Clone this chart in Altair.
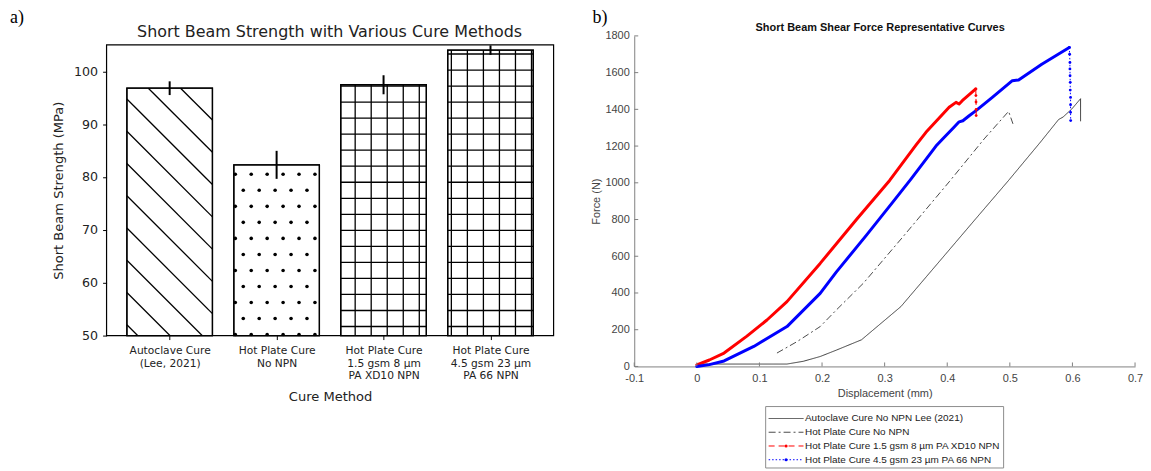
import json
import pandas as pd
import altair as alt

# ---------------- Panel a) values ----------------
categories = ["Autoclave Cure|(Lee, 2021)", "Hot Plate Cure|No NPN",
              "Hot Plate Cure|1.5 gsm 8 µm|PA XD10  NPN",
              "Hot Plate Cure|4.5 gsm 23 µm|PA 66 NPN"]
strength = [96.8, 82.3, 97.45, 104.0]
strength_err = [1.3, 2.65, 1.8, 0.9]
hatch_style = ["diag", "dots", "grid", "grid"]
a_yticks = [50, 60, 70, 80, 90, 100]
a_title = "Short Beam Strength with Various Cure Methods"
a_xtitle = "Cure Method"
a_ytitle = "Short Beam Strength (MPa)"

# ---------------- Panel b) values ----------------
series_names = ["Autoclave Cure No NPN Lee (2021)", "Hot Plate Cure No NPN",
                "Hot Plate Cure 1.5 gsm 8 µm PA XD10 NPN",
                "Hot Plate Cure 4.5 gsm 23 µm PA 66 NPN"]
series_colors = ["#3a3a3a", "#4a4a4a", "#ff0000", "#0000ff"]
series_dash = [[1, 0], [7, 3, 2, 3], [6, 4], [1.5, 2]]
series_marker = [False, False, True, True]

auto_d = [0.0, 0.144, 0.170, 0.197, 0.223, 0.263, 0.326, 0.366, 0.446, 0.498,
          0.549, 0.578, 0.585, 0.599, 0.613, 0.613]
auto_F = [13, 13, 28, 54, 89, 145, 326, 486, 806, 1013,
          1222, 1345, 1358, 1402, 1458, 1335]

nonpn_d = [0.128, 0.160, 0.197, 0.223, 0.266, 0.330, 0.403, 0.459, 0.498, 0.505]
nonpn_F = [73, 135, 217, 308, 453, 709, 1005, 1239, 1389, 1321]

xd10_d = [0.0, 0.020, 0.0435, 0.080, 0.112, 0.144, 0.197, 0.255, 0.308, 0.350,
          0.366, 0.403, 0.414, 0.419, 0.424, 0.4456]
xd10_F = [9, 35, 73, 165, 253, 353, 561, 800, 1013, 1205,
          1275, 1411, 1438, 1429, 1447, 1511]
xd10_drop_d = [0.4456, 0.4458, 0.4460, 0.4462, 0.4462]
xd10_drop_F = [1511, 1475, 1440, 1400, 1366]

pa66_d = [0.0, 0.020, 0.0435, 0.091, 0.144, 0.197, 0.223, 0.271, 0.313, 0.342,
          0.382, 0.393, 0.410, 0.419, 0.425, 0.435, 0.446, 0.472, 0.504, 0.514,
          0.551, 0.595]
pa66_F = [0, 10, 30, 109, 217, 398, 515, 715, 895, 1020,
          1200, 1240, 1300, 1332, 1338, 1365, 1393, 1465, 1556, 1560,
          1646, 1737]
pa66_drop_d = [0.595, 0.5955, 0.596, 0.596, 0.5962, 0.5965, 0.5965, 0.597, 0.597, 0.597, 0.5972]
pa66_drop_F = [1737, 1700, 1655, 1620, 1583, 1547, 1505, 1465, 1425, 1384, 1339]

b_xticks = [-0.1, 0.0, 0.1, 0.2, 0.3, 0.4, 0.5, 0.6, 0.7]
b_yticks = [0, 200, 400, 600, 800, 1000, 1200, 1400, 1600, 1800]
b_title = "Short Beam Shear Force Representative Curves"
b_xtitle = "Displacement (mm)"
b_ytitle = "Force (N)"

# ---------------- layout / style ----------------
W1, W2, H = 449, 503, 332
FT, FB = 9, 301                      # frame top / bottom inside panel a
AX = [-0.59, 3.59]
AY = [50, 105]
XPX = W1 / (AX[1] - AX[0])
YPX = (FB - FT) / (AY[1] - AY[0])
BAR_HALF = 0.4
FONT_A = "DejaVu Sans"
FONT_B = "Liberation Sans"
TAG_Y = -13
# legend box (pixels inside panel b)
LX0, LX1, LY0, LY1 = 132, 371, 372.3, 434
LSYM0, LSYM1, LTXT = 135, 170, 171.5
LFIRST, LSTEP = 384.3, 13.8


def to_x(fx):
    return AX[0] + fx / XPX


def to_y(fy):
    return AY[1] - fy / YPX


# ---------- panel a tables ----------
bars = pd.DataFrame({
    "pos": list(range(len(categories))),
    "x0": [i - BAR_HALF for i in range(len(categories))],
    "x1": [i + BAR_HALF for i in range(len(categories))],
    "v": strength,
    "base": [AY[0]] * len(categories),
    "lo": [v - e for v, e in zip(strength, strength_err)],
    "hi": [v + e for v, e in zip(strength, strength_err)],
})

# hatch geometry (decoration) derived from the bars
segs, dots = [], []
for i, (v, hs) in enumerate(zip(strength, hatch_style)):
    x0 = (i - BAR_HALF - AX[0]) * XPX
    x1 = (i + BAR_HALF - AX[0]) * XPX
    t = (AY[1] - v) * YPX
    b = (AY[1] - AY[0]) * YPX
    if hs == "diag":
        for k in range(-40, 40):
            c = 34 + 32.4 * k
            s = max(x0, t - c)
            e = min(x1, b - c)
            if e - s > 0.5:
                segs.append(dict(x=to_x(s), x2=to_x(e), y=to_y(s + c), y2=to_y(e + c)))
    elif hs == "dots":
        for r in range(-40, 40):
            fy = 130 + 16.1 * r
            if not (t + 1 <= fy <= b):
                continue
            for j in range(-40, 40):
                fx = 129.3 + 8 * (r % 2) + 16 * j
                if x0 - 0.5 <= fx <= x1:
                    dots.append(dict(x=to_x(fx), y=to_y(fy)))
    else:
        for k in range(-40, 60):
            fx = 249.7 + 16.1 * k
            if x0 + 0.5 < fx < x1 - 0.5:
                segs.append(dict(x=to_x(fx), x2=to_x(fx), y=to_y(t), y2=to_y(b)))
            fy = 25.3 + 16.1 * k
            if t + 0.5 < fy < b:
                segs.append(dict(x=to_x(x0), x2=to_x(x1), y=to_y(fy), y2=to_y(fy)))
segs = pd.DataFrame(segs)
dots = pd.DataFrame(dots)
frame = pd.DataFrame({"x0": [AX[0]], "x1": [AX[1]], "y0": [AY[0]], "y1": [AY[1]]})

xs_a = alt.Scale(domain=AX, nice=False, zero=False)
ys_a = alt.Scale(domain=AY, range=[FB, FT], nice=False, zero=False)
lab_arr = json.dumps(categories, ensure_ascii=False)
x_axis_a = alt.Axis(values=[0, 1, 2, 3], labelExpr=f"split({lab_arr}[datum.value], '|')",
                    title=a_xtitle, domain=False, grid=False, tickSize=4, tickColor="black",
                    labelFont=FONT_A, labelFontSize=10.7, labelColor="#222", labelLineHeight=12.8,
                    labelPadding=6, labelOverlap=False, labelFlush=False,
                    titleFont=FONT_A, titleFontSize=13.1, titleFontWeight="normal",
                    titleColor="#222", titlePadding=10, offset=-(H - FB))
y_axis_a = alt.Axis(values=a_yticks, title=a_ytitle, domain=False, grid=False, tickSize=4,
                    tickColor="black", labelFont=FONT_A, labelFontSize=12.7, labelColor="#222",
                    labelPadding=5, titleFont=FONT_A, titleFontSize=13.1,
                    titleFontWeight="normal", titleColor="#222", titlePadding=8)


def XA(f):
    return alt.X(f, scale=xs_a, axis=x_axis_a)


def YA(f):
    return alt.Y(f, scale=ys_a, axis=y_axis_a)


bar_fill = alt.Chart(bars).mark_rect(fill="white", stroke="black", strokeWidth=1.3).encode(
    x=XA("x0:Q"), x2="x1:Q", y=YA("v:Q"), y2="base:Q")
hatch_lines = alt.Chart(segs).mark_rule(color="black", strokeWidth=1.3).encode(
    x=XA("x:Q"), x2="x2:Q", y=YA("y:Q"), y2="y2:Q")
hatch_dots = alt.Chart(dots).mark_circle(color="black", size=13, opacity=1).encode(
    x=XA("x:Q"), y=YA("y:Q"))
bar_edge = alt.Chart(bars).mark_rect(fillOpacity=0, stroke="black", strokeWidth=1.3).encode(
    x=XA("x0:Q"), x2="x1:Q", y=YA("v:Q"), y2="base:Q")
err = alt.Chart(bars).mark_rule(color="black", strokeWidth=2).encode(
    x=XA("pos:Q"), y=YA("lo:Q"), y2="hi:Q")
frame_a = alt.Chart(frame).mark_rect(fillOpacity=0, stroke="black", strokeWidth=1.2).encode(
    x=XA("x0:Q"), x2="x1:Q", y=YA("y0:Q"), y2="y1:Q")
title_a = alt.Chart(pd.DataFrame({"t": [a_title]})).mark_text(
    font=FONT_A, fontSize=16, color="#222", align="center", baseline="alphabetic").encode(
    x=alt.value(W1 / 2 - 0.5), y=alt.value(0.7), text="t:N")
tag_a = alt.Chart(pd.DataFrame({"t": ["a)"]})).mark_text(
    font="Liberation Serif", fontSize=18, color="black", align="left", baseline="alphabetic").encode(
    x=alt.value(-97), y=alt.value(TAG_Y), text="t:N")

panel_a = alt.layer(bar_fill, hatch_lines, hatch_dots, bar_edge, err, frame_a, title_a, tag_a
                    ).properties(width=W1, height=H)

# ---------- panel b tables ----------
rows = []
k = 0
for name, ds, fs, part in [
    (series_names[0], auto_d, auto_F, "full"),
    (series_names[1], nonpn_d, nonpn_F, "full"),
    (series_names[2], xd10_d, xd10_F, "curve"),
    (series_names[2], xd10_drop_d, xd10_drop_F, "drop"),
    (series_names[3], pa66_d, pa66_F, "curve"),
    (series_names[3], pa66_drop_d, pa66_drop_F, "drop"),
]:
    for d, f in zip(ds, fs):
        rows.append(dict(series=name, d=d, F=f, part=part, k=k))
        k += 1
lines = pd.DataFrame(rows)

xs_b = alt.Scale(domain=[-0.1, 0.7], nice=False, zero=False)
ys_b = alt.Scale(domain=[0, 1800], nice=False, zero=True)
x_axis_b = alt.Axis(values=b_xticks,
                    labelExpr="datum.value == 0 ? '0' : (datum.value < 0 ? '-' + format(-datum.value, '.1f') : format(datum.value, '.1f'))",
                    title=b_xtitle, grid=False, ticks=False, tickSize=0, domainColor="#808080",
                    domainWidth=1, labelFont=FONT_B, labelFontSize=11, labelColor="#444",
                    labelPadding=6, labelFlush=False, labelOverlap=False,
                    titleFont=FONT_B, titleFontSize=11, titleFontWeight="normal",
                    titleColor="#444", titlePadding=4)
y_axis_b = alt.Axis(values=b_yticks, format="d", title=b_ytitle, grid=False, ticks=False,
                    tickSize=0, domainColor="#808080", domainWidth=1, labelFont=FONT_B,
                    labelFontSize=11, labelColor="#444", labelPadding=5, labelFlush=False,
                    labelOverlap=False, titleFont=FONT_B, titleFontSize=11,
                    titleFontWeight="normal", titleColor="#444", titlePadding=3)

color_b = alt.Color("series:N", scale=alt.Scale(domain=series_names, range=series_colors),
                    legend=None)
dash_b = alt.StrokeDash("series:N", scale=alt.Scale(domain=series_names, range=series_dash),
                        legend=None)


def XB(f):
    return alt.X(f, scale=xs_b, axis=x_axis_b)


def YB(f):
    return alt.Y(f, scale=ys_b, axis=y_axis_b)


base_b = alt.Chart(lines)
l_full = base_b.transform_filter(alt.datum.part == "full").mark_line(strokeWidth=1).encode(
    x=XB("d:Q"), y=YB("F:Q"), color=color_b, strokeDash=dash_b, order="k:Q")
l_curve = base_b.transform_filter(alt.datum.part == "curve").mark_line(
    strokeWidth=3, strokeCap="round", strokeJoin="round").encode(
    x=XB("d:Q"), y=YB("F:Q"), color=color_b, order="k:Q")
l_drop = base_b.transform_filter(alt.datum.part == "drop").mark_line(strokeWidth=1).encode(
    x=XB("d:Q"), y=YB("F:Q"), color=color_b, strokeDash=dash_b, order="k:Q")
p_drop = base_b.transform_filter(alt.datum.part == "drop").mark_circle(size=8, opacity=1).encode(
    x=XB("d:Q"), y=YB("F:Q"), color=color_b)

xt = alt.Chart(pd.DataFrame({"t": b_xticks})).mark_rule(color="#808080", strokeWidth=1).encode(
    x=XB("t:Q"), y=alt.value(H), y2=alt.value(H - 4))
yt = alt.Chart(pd.DataFrame({"t": b_yticks})).mark_rule(color="#808080", strokeWidth=1).encode(
    y=YB("t:Q"), x=alt.value(0), x2=alt.value(4))
title_b = alt.Chart(pd.DataFrame({"t": [b_title]})).mark_text(
    font=FONT_B, fontSize=11, fontWeight="bold", color="#111", align="center",
    baseline="alphabetic").encode(x=alt.value(247), y=alt.value(-5.4), text="t:N")
tag_b = alt.Chart(pd.DataFrame({"t": ["b)"]})).mark_text(
    font="Liberation Serif", fontSize=18, color="black", align="left", baseline="alphabetic").encode(
    x=alt.value(-42), y=alt.value(TAG_Y), text="t:N")

# ---------- manual legend (matches the MATLAB legend box) ----------
one = pd.DataFrame({"t": [""]})
legend_layers = [alt.Chart(one).mark_rect(fill="white", stroke="#8c8c8c", strokeWidth=1).encode(
    x=alt.value(LX0), x2=alt.value(LX1), y=alt.value(LY0), y2=alt.value(LY1))]
for i, name in enumerate(series_names):
    yy = LFIRST + LSTEP * i
    legend_layers.append(alt.Chart(one).mark_rule(
        color=series_colors[i], strokeWidth=1, strokeDash=series_dash[i]).encode(
        x=alt.value(LSYM0), x2=alt.value(LSYM1), y=alt.value(yy)))
    if series_marker[i]:
        legend_layers.append(alt.Chart(one).mark_circle(
            color=series_colors[i], size=10, opacity=1).encode(
            x=alt.value((LSYM0 + LSYM1) / 2), y=alt.value(yy)))
    legend_layers.append(alt.Chart(pd.DataFrame({"t": [name]})).mark_text(
        font=FONT_B, fontSize=10, color="#222", align="left", baseline="middle").encode(
        x=alt.value(LTXT), y=alt.value(yy), text="t:N"))

panel_b = alt.layer(l_full, l_curve, l_drop, p_drop, xt, yt, title_b, tag_b, *legend_layers
                    ).properties(width=W2, height=H)

chart = alt.hconcat(panel_a, panel_b, spacing=81, bounds="flush").properties(
    padding={"left": 2, "top": 0, "right": 0, "bottom": 0}
).configure_view(strokeWidth=0)

chart.save("out.html", embed_options={"renderer": "svg", "actions": False})
